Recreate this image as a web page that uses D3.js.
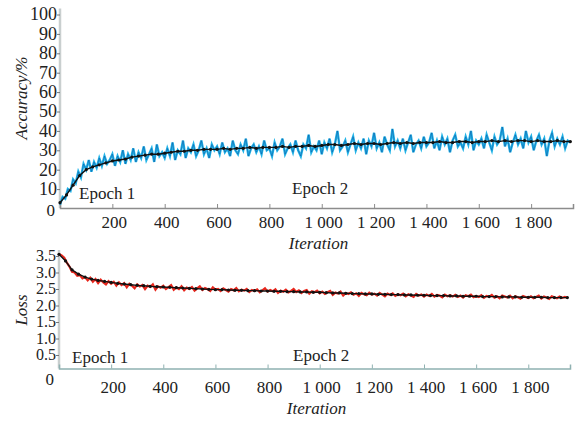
<!DOCTYPE html>
<html>
<head>
<meta charset="utf-8">
<script src="https://cdn.jsdelivr.net/npm/d3@7"></script>
</head>
<body style="margin:0">
<div id="app"></div>
<script>
const WIDTH = 586;
const HEIGHT = 421;

// raw values every 10 iterations, moving average every 25 iterations
const RAW_STEP = 10;
const AVG_STEP = 25;

const accRaw = [
  2, 6, 5, 10, 9, 15, 13, 19, 16, 23, 20,
  25, 19, 24, 21, 26, 22, 27, 23, 25, 28,
  22, 27, 24, 30, 23, 28, 25, 31, 24, 29,
  26, 32, 25, 28, 31, 24, 33, 27, 29, 26,
  31, 27, 34, 25, 30, 28, 35, 26, 31, 29,
  33, 27, 30, 35, 28, 31, 26, 33, 30, 32,
  28, 34, 29, 31, 27, 35, 30, 28, 33, 30,
  36, 27, 31, 33, 29, 32, 28, 35, 30, 31,
  27, 34, 30, 32, 36, 28, 31, 33, 29, 35,
  30, 27, 33, 31, 38, 29, 32, 30, 35, 28,
  34, 31, 36, 29, 33, 40, 30, 32, 35, 29,
  33, 37, 30, 34, 31, 36, 28, 35, 32, 39,
  31, 34, 29, 37, 33, 30, 41, 32, 35, 31,
  36, 30, 34, 38, 29, 33, 35, 31, 37, 32,
  34, 39, 31, 35, 30, 37, 33, 36, 29, 35,
  38, 32, 34, 31, 37, 33, 40, 30, 35, 33,
  36, 31, 38, 34, 30, 37, 33, 35, 42, 32,
  36, 29, 34, 38, 33, 36, 31, 40, 34, 37,
  30, 35, 38, 33, 36, 27, 35, 39, 32, 36,
  33, 37, 31, 35, 34
];

const accAvg = [
  3, 7, 12, 17, 20, 21.5, 22.5, 23.5, 24.5, 25,
  25.5, 26.5, 27, 27.5, 28, 28, 28.5, 29, 29.5, 29.5,
  30, 30, 30.5, 30.5, 30.5, 31, 30.5, 31, 31, 31.5,
  31, 31.5, 31.5, 31.5, 32, 31.5, 32, 32, 32.5, 32,
  32.5, 33, 33, 32.5, 33, 33.5, 33, 33.5, 33.5, 33,
  33.5, 34, 33.5, 34, 33.5, 34, 34, 34, 34.5, 34,
  34, 34.5, 34.5, 34, 34.5, 34.5, 35, 34.5, 35, 34.5,
  35, 35, 34.5, 35, 34.5, 34.5, 35, 34.5, 34.5
];

const lossRaw = [
  3.56, 3.52, 3.45, 3.3, 3.18, 3.02, 3.0, 2.9, 2.92, 2.82, 2.86,
  2.76, 2.84, 2.72, 2.8, 2.68, 2.78, 2.7, 2.64, 2.74, 2.66,
  2.72, 2.6, 2.7, 2.62, 2.68, 2.55, 2.66, 2.6, 2.52, 2.64,
  2.58, 2.62, 2.5, 2.6, 2.56, 2.64, 2.48, 2.58, 2.54, 2.6,
  2.5, 2.56, 2.62, 2.48, 2.55, 2.5, 2.58, 2.46, 2.54, 2.5,
  2.56, 2.45, 2.52, 2.58, 2.47, 2.53, 2.49, 2.44, 2.55, 2.48,
  2.5, 2.44, 2.52, 2.47, 2.42, 2.5, 2.46, 2.53, 2.43, 2.48,
  2.45, 2.5, 2.41, 2.47, 2.44, 2.49, 2.4, 2.46, 2.52, 2.42,
  2.47, 2.43, 2.49, 2.38, 2.45, 2.42, 2.48, 2.4, 2.44, 2.5,
  2.41, 2.46, 2.38, 2.44, 2.47, 2.36, 2.43, 2.4, 2.45, 2.37,
  2.42, 2.35, 2.4, 2.44, 2.32, 2.39, 2.36, 2.42, 2.3, 2.38,
  2.35, 2.4, 2.33, 2.37, 2.29, 2.38, 2.34, 2.31, 2.39, 2.33,
  2.36, 2.3, 2.38, 2.33, 2.28, 2.36, 2.32, 2.37, 2.29, 2.34,
  2.31, 2.36, 2.28, 2.34, 2.3, 2.26, 2.35, 2.3, 2.33, 2.27,
  2.33, 2.29, 2.35, 2.27, 2.32, 2.3, 2.25, 2.33, 2.28, 2.31,
  2.27, 2.32, 2.26, 2.3, 2.24, 2.31, 2.28, 2.33, 2.25, 2.29,
  2.26, 2.31, 2.23, 2.29, 2.27, 2.32, 2.24, 2.28, 2.22, 2.3,
  2.27, 2.24, 2.3, 2.22, 2.28, 2.25, 2.21, 2.29, 2.26, 2.23,
  2.28, 2.22, 2.26, 2.3, 2.21, 2.27, 2.24, 2.2, 2.28, 2.25,
  2.22, 2.27, 2.23, 2.26, 2.24
];

const lossAvg = [
  3.55, 3.35, 3.08, 2.95, 2.86, 2.8, 2.76, 2.73, 2.7, 2.67,
  2.65, 2.63, 2.61, 2.6, 2.58, 2.57, 2.56, 2.55, 2.54, 2.53,
  2.52, 2.51, 2.5, 2.49, 2.48, 2.48, 2.47, 2.46, 2.46, 2.45,
  2.45, 2.44, 2.44, 2.43, 2.43, 2.42, 2.42, 2.41, 2.41, 2.4,
  2.4, 2.39, 2.38, 2.38, 2.37, 2.36, 2.36, 2.35, 2.35, 2.34,
  2.34, 2.33, 2.33, 2.32, 2.32, 2.31, 2.31, 2.3, 2.3, 2.3,
  2.29, 2.29, 2.28, 2.28, 2.28, 2.27, 2.27, 2.27, 2.26, 2.26,
  2.26, 2.25, 2.25, 2.25, 2.25, 2.24, 2.24, 2.24, 2.24
];

const xTicks = [200, 400, 600, 800, 1000, 1200, 1400, 1600, 1800];
const accTicks = [10, 20, 30, 40, 50, 60, 70, 80, 90, 100];
const lossTicks = [0.5, 1.0, 1.5, 2.0, 2.5, 3.0, 3.5];

const fontSize = 17;

const svg = d3.select('#app')
  .append('svg')
  .attr('width', WIDTH)
  .attr('height', HEIGHT);

const fmtIter = d => d >= 1000 ? Math.floor(d / 1000) + ' ' + d3.format('03d')(d % 1000) : String(d);

// plain text nodes straight on the svg; only the family goes through style
function addText(txt, x, y, size, opts = {}) {
  const t = svg.append('text')
    .attr('x', x).attr('y', y)
    .attr('font-size', size)
    .attr('fill', '#222')
    .attr('text-anchor', opts.anchor || 'start')
    .style('font-family', '"Liberation Serif"')
    .text(txt);
  if (opts.italic) t.attr('font-style', 'italic');
  if (opts.rotate) t.attr('transform', `rotate(-90,${x},${y})`);
  return t;
}

function drawPanel(opt) {
  const x = d3.scaleLinear().domain([0, 1960]).range([opt.left, opt.right]);
  const y = d3.scaleLinear().domain(opt.yDomain).range([opt.bottom, opt.top]);

  const g = svg.append('g');

  // y axis line (light grey band)
  g.append('line')
    .attr('x1', opt.left).attr('x2', opt.left)
    .attr('y1', opt.top - 6).attr('y2', opt.axisY)
    .attr('stroke', '#c9cfcf').attr('stroke-width', 2.5);

  // x axis: line and ticks from the axis generator, labels added as plain text
  const xAxis = d3.axisBottom(x).tickValues(xTicks).tickSize(-4).tickFormat('');
  const xg = g.append('g')
    .attr('transform', `translate(0,${opt.axisY})`)
    .call(xAxis);
  xg.selectAll('text').remove();
  xg.select('.domain').attr('stroke', opt.axisColor).attr('stroke-width', 1.5);
  xg.selectAll('.tick line').attr('stroke', opt.axisColor);
  xTicks.forEach(t => addText(fmtIter(t), x(t) + 2, opt.xLabelBase, fontSize, { anchor: 'middle' }));

  // y axis ticks
  const yAxis = d3.axisLeft(y).tickValues(opt.yTicks).tickSize(3).tickFormat('');
  const yg = g.append('g')
    .attr('transform', `translate(${opt.left},0)`)
    .call(yAxis);
  yg.selectAll('text').remove();
  yg.select('.domain').remove();
  yg.selectAll('.tick line').attr('stroke', '#777');
  opt.yTicks.forEach(t => addText(opt.yFormat(t), opt.left - 3, y(t) + opt.yTickSize * 0.33, opt.yTickSize, { anchor: 'end' }));

  // origin label
  addText('0', opt.left - 5, opt.zeroBase, fontSize, { anchor: 'end' });

  // raw series
  const rawLine = d3.line()
    .x((d, i) => x(i * RAW_STEP))
    .y(d => y(d));
  g.append('path')
    .datum(opt.raw)
    .attr('d', rawLine)
    .attr('fill', 'none')
    .attr('stroke', opt.rawColor)
    .attr('stroke-width', opt.rawWidth);
  if (opt.rawShadow) {
    g.append('path')
      .datum(opt.raw)
      .attr('d', rawLine)
      .attr('fill', 'none')
      .attr('stroke', opt.rawShadow)
      .attr('stroke-width', 1)
      .attr('stroke-opacity', 0.5);
  }

  // averaged series with markers
  const avgLine = d3.line()
    .x((d, i) => x(i * AVG_STEP))
    .y(d => y(d));
  g.append('path')
    .datum(opt.avg)
    .attr('d', avgLine)
    .attr('fill', 'none')
    .attr('stroke', '#111')
    .attr('stroke-width', 1.4);
  g.selectAll('circle.avg')
    .data(opt.avg)
    .enter()
    .append('circle')
    .attr('class', 'avg')
    .attr('cx', (d, i) => x(i * AVG_STEP))
    .attr('cy', d => y(d))
    .attr('r', 1.6)
    .attr('fill', '#111');

  // epoch labels
  opt.epochs.forEach(e => addText(e.text, e.x, e.y, fontSize));

  // axis titles
  addText('Iteration', (opt.left + opt.right) / 2 + 2, opt.titleBase, fontSize, { anchor: 'middle', italic: true });
  addText(opt.yTitle, 27, opt.yTitleMid, fontSize, { anchor: 'middle', italic: true, rotate: true });
}

drawPanel({
  left: 60, right: 573, top: 14.5, bottom: 208.5, axisY: 208,
  yDomain: [0, 100], yTicks: accTicks, yFormat: d => String(d), yTickSize: 18,
  xLabelBase: 228, zeroBase: 216, titleBase: 249,
  raw: accRaw, avg: accAvg,
  rawColor: '#22b4e8', rawWidth: 2.4, rawShadow: '#0b4f9e',
  axisColor: '#8c8c8c',
  epochs: [{ text: 'Epoch 1', x: 79, y: 199 }, { text: 'Epoch 2', x: 292, y: 194 }],
  yTitle: 'Accuracy/%', yTitleMid: 98
});

drawPanel({
  left: 59, right: 570, top: 256, bottom: 371.5, axisY: 368.5,
  yDomain: [0, 3.5], yTicks: lossTicks, yFormat: d3.format('.1f'), yTickSize: 16,
  xLabelBase: 393, zeroBase: 385, titleBase: 414,
  raw: lossRaw, avg: lossAvg,
  rawColor: '#e8261c', rawWidth: 2.2, rawShadow: null,
  axisColor: '#8fb1b1',
  epochs: [{ text: 'Epoch 1', x: 72, y: 363 }, { text: 'Epoch 2', x: 293, y: 361 }],
  yTitle: 'Loss', yTitleMid: 310
});
</script>
</body>
</html>
